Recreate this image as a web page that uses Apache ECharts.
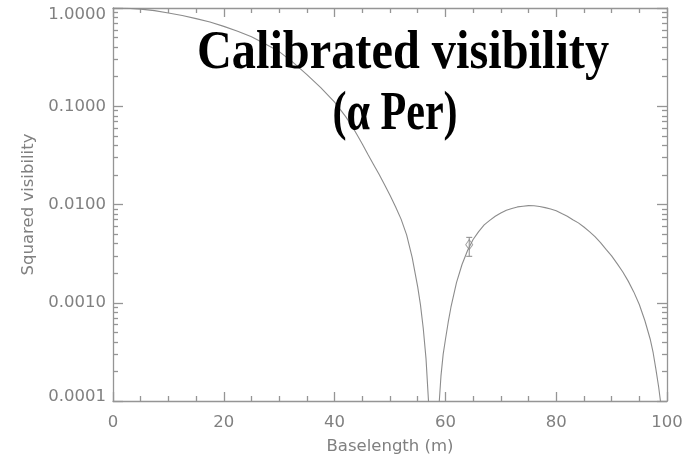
<!DOCTYPE html>
<html><head><meta charset="utf-8">
<script src="https://cdn.jsdelivr.net/npm/echarts@6/dist/echarts.min.js"></script>
<style>html,body{margin:0;padding:0;background:#fff}#c{width:691px;height:454px}</style>
</head><body><div id="c"></div>
<script>
// Model curve (baseline in m, squared visibility)
const baseline = [0, 2.5, 5, 7.5, 10, 12.5, 15, 17.5, 20, 22.5, 25, 27.5, 30, 32.5, 35, 37.5,
  40, 41, 42, 43, 44, 45, 46, 47, 48, 49, 50, 51, 52, 53, 54, 55, 55.5, 56, 56.5, 57, 57.8,
  58.9, 59.2, 59.6, 60, 60.5, 61, 62, 63, 64, 65, 66, 67, 68, 69, 70, 71, 72, 73, 74, 75, 76, 77, 78, 79,
  80, 81, 82, 83, 84, 85, 86, 87, 88, 89, 90, 91, 92, 93, 94, 95, 96, 97, 97.5, 98, 98.5, 99, 99.4];
const sqVis = [1.0, 0.995, 0.975, 0.94, 0.89, 0.84, 0.78, 0.72, 0.65, 0.58, 0.51, 0.43, 0.36, 0.28, 0.21, 0.155,
  0.11, 0.093, 0.0785, 0.0646, 0.0519, 0.0412, 0.0324, 0.0257, 0.0204, 0.0160, 0.01245, 0.0095, 0.0071, 0.0049, 0.0029, 0.00145, 0.00095, 0.00055, 0.00027, 0.000089, 1e-8,
  0.0001, 0.00018, 0.00030, 0.00042, 0.00063, 0.00090, 0.0016, 0.00245, 0.0034, 0.0044, 0.0053, 0.0062, 0.0069, 0.0076, 0.0082, 0.00875, 0.0091, 0.00945, 0.0096, 0.00973, 0.0097, 0.00955, 0.0093, 0.0090,
  0.00865, 0.0081, 0.0076, 0.0070, 0.0065, 0.0059, 0.0053, 0.0047, 0.0041, 0.0035, 0.0030, 0.0025, 0.00207, 0.00166, 0.00129, 0.00096, 0.00066, 0.00042, 0.00031, 0.00021, 0.000138, 0.000083, 1e-8];
// Measurement with error bar
const obsBaseline = [64.3];
const obsVis = [0.0039];
const obsLow = [0.00297];
const obsHigh = [0.00463];
// Ticks
const xTicks = [0, 20, 40, 60, 80, 100];
const yMajor = [0.0001, 0.001, 0.01, 0.1, 1];
const yMinor = [0.0002,0.0003,0.0004,0.0005,0.0006,0.0007,0.0008,0.0009,
                0.002,0.003,0.004,0.005,0.006,0.007,0.008,0.009,
                0.02,0.03,0.04,0.05,0.06,0.07,0.08,0.09,
                0.2,0.3,0.4,0.5,0.6,0.7,0.8,0.9];

const AX = '#959595';
const TXT = '#808080';
const FONT = 'DejaVu Sans';
const lineSty = {color: AX, width: 1.3};
const labelFont = {color: TXT, fontSize: 16.5, fontFamily: FONT};

function yAxisMajor(pos, labels) {
  return {
    type: 'log', logBase: 10, min: 0.0001, max: 1, position: pos,
    axisLine: {show: true, lineStyle: lineSty},
    axisTick: {show: true, inside: true, length: 10, customValues: yMajor, lineStyle: lineSty},
    axisLabel: labels ? {
      show: true, customValues: yMajor, margin: 7, ...labelFont,
      formatter: v => {
        const s = Number(v).toFixed(4);
        if (v >= 0.99) return '{t|' + s + '}';
        if (v <= 0.00011) return '{b|' + s + '}';
        return s;
      },
      rich: {
        t: {padding: [14, 0, 0, 0], ...labelFont},
        b: {padding: [0, 0, 9, 0], ...labelFont}
      }
    } : {show: false},
    splitLine: {show: false},
    name: labels ? 'Squared visibility' : '',
    nameLocation: 'middle', nameGap: 70,
    nameTextStyle: {...labelFont}
  };
}
function yAxisMinor(pos) {
  return {
    type: 'log', logBase: 10, min: 0.0001, max: 1, position: pos,
    axisLine: {show: false},
    axisTick: {show: true, inside: true, length: 5, customValues: yMinor, lineStyle: lineSty},
    axisLabel: {show: false},
    splitLine: {show: false}
  };
}
function xAxisDef(pos, labels) {
  return {
    type: 'value', min: 0, max: 100, interval: 20, position: pos,
    axisLine: {show: true, onZero: false, lineStyle: lineSty},
    axisTick: {show: true, inside: true, length: 9, lineStyle: lineSty},
    minorTick: {show: true, splitNumber: 4, length: 5, lineStyle: lineSty},
    axisLabel: labels ? {show: true, margin: 13, ...labelFont,
      customValues: xTicks, formatter: v => String(v)} : {show: false},
    splitLine: {show: false},
    name: labels ? 'Baselength (m)' : '',
    nameLocation: 'middle', nameGap: 37,
    nameTextStyle: {...labelFont}
  };
}

const chart = echarts.init(document.getElementById('c'), null, {renderer: 'canvas'});
chart.setOption({
  animation: false,
  backgroundColor: '#fff',
  grid: {left: 113, right: 24, top: 8, bottom: 53, containLabel: false, outerBoundsMode: 'none'},
  xAxis: [xAxisDef('bottom', true), xAxisDef('top', false)],
  yAxis: [yAxisMajor('left', true), yAxisMinor('left'), yAxisMajor('right', false), yAxisMinor('right')],
  series: [
    {
      type: 'line', xAxisIndex: 0, yAxisIndex: 0,
      data: baseline.map((x, i) => [x, sqVis[i]]),
      showSymbol: false, symbol: 'none', clip: true,
      lineStyle: {color: '#8c8c8c', width: 1.1}
    },
    {
      type: 'custom', xAxisIndex: 0, yAxisIndex: 0,
      data: obsBaseline.map((x, i) => [x, obsLow[i], obsHigh[i]]),
      encode: {x: 0, y: [1, 2]},
      renderItem: (params, api) => {
        const lo = api.coord([api.value(0), api.value(1)]);
        const hi = api.coord([api.value(0), api.value(2)]);
        const w = 3;
        const st = {stroke: '#8a8a8a', lineWidth: 1};
        return {type: 'group', children: [
          {type: 'line', shape: {x1: lo[0], y1: lo[1], x2: hi[0], y2: hi[1]}, style: st},
          {type: 'line', shape: {x1: lo[0] - w, y1: lo[1], x2: lo[0] + w, y2: lo[1]}, style: st},
          {type: 'line', shape: {x1: hi[0] - w, y1: hi[1], x2: hi[0] + w, y2: hi[1]}, style: st}
        ]};
      }
    },
    {
      type: 'scatter', xAxisIndex: 0, yAxisIndex: 0, z: 5,
      data: obsBaseline.map((x, i) => [x, obsVis[i]]),
      symbol: 'diamond', symbolSize: [7, 10],
      itemStyle: {color: 'rgba(255,255,255,0)', borderColor: '#8a8a8a', borderWidth: 1}
    }
  ],
  graphic: [
    {type: 'text', x: 403, y: 54, scaleX: 0.895, z: 100,
     style: {text: 'Calibrated visibility', font: 'bold 54px "Liberation Serif"', fill: '#000',
             align: 'center', verticalAlign: 'middle',
             shadowBlur: 6, shadowColor: 'rgba(0,0,0,0.6)', shadowOffsetX: 3, shadowOffsetY: 3}},
    {type: 'text', x: 395, y: 115, scaleX: 0.78, z: 100,
     style: {text: '(α Per)', font: 'bold 54px "Liberation Serif"', fill: '#000',
             align: 'center', verticalAlign: 'middle',
             shadowBlur: 6, shadowColor: 'rgba(0,0,0,0.6)', shadowOffsetX: 3, shadowOffsetY: 3}}
  ]
});
</script>
</body></html>
